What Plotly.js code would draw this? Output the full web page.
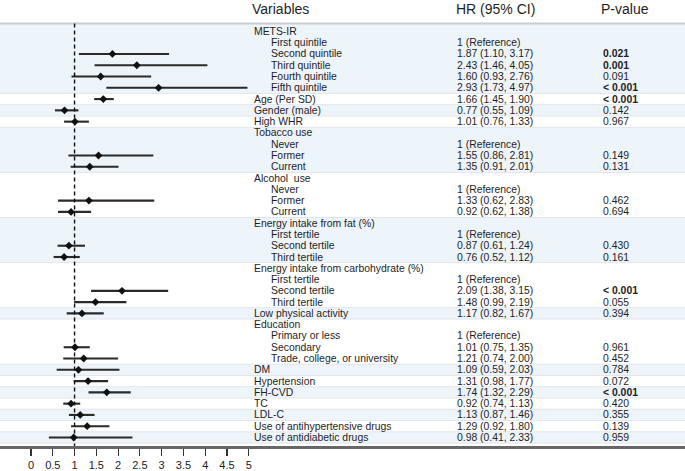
<!DOCTYPE html>
<html>
<head>
<meta charset="utf-8">
<script src="https://cdn.plot.ly/plotly-3.0.1.min.js"></script>
<style>html,body{margin:0;padding:0;background:#fff;}#chart{width:685px;height:471px;}</style>
</head>
<body>
<div id="chart"></div>
<script>
// ---- data ----
const labels = ['METS-IR','First quintile','Second quintile','Third quintile','Fourth quintile','Fifth quintile',
  'Age (Per SD)','Gender (male)','High WHR',
  'Tobacco use','Never','Former','Current',
  'Alcohol\u00a0 use','Never','Former','Current',
  'Energy intake from fat (%)','First tertile','Second tertile','Third tertile',
  'Energy intake from carbohydrate (%)','First tertile','Second tertile','Third tertile',
  'Low physical activity',
  'Education','Primary or less','Secondary','Trade, college, or university',
  'DM','Hypertension','FH-CVD','TC','LDL-C','Use of antihypertensive drugs','Use of antidiabetic drugs'];
const indent = [0,1,1,1,1,1, 0,0,0, 0,1,1,1, 0,1,1,1, 0,1,1,1, 0,1,1,1, 0, 0,1,1,1, 0,0,0,0,0,0,0];
const hr = [null,null,1.87,2.43,1.60,2.93, 1.66,0.77,1.01, null,null,1.55,1.35, null,null,1.33,0.92,
  null,null,0.87,0.76, null,null,2.09,1.48, 1.17, null,null,1.01,1.21, 1.09,1.31,1.74,0.92,1.13,1.29,0.98];
const lo = [null,null,1.10,1.46,0.93,1.73, 1.45,0.55,0.76, null,null,0.86,0.91, null,null,0.62,0.62,
  null,null,0.61,0.52, null,null,1.38,0.99, 0.82, null,null,0.75,0.74, 0.59,0.98,1.32,0.74,0.87,0.92,0.41];
const hi = [null,null,3.17,4.05,2.76,4.97, 1.90,1.09,1.33, null,null,2.81,2.01, null,null,2.83,1.38,
  null,null,1.24,1.12, null,null,3.15,2.19, 1.67, null,null,1.35,2.00, 2.03,1.77,2.29,1.13,1.46,1.80,2.33];
const pText = ['','','0.021','0.001','0.091','< 0.001','< 0.001','0.142','0.967','','','0.149','0.131',
  '','','0.462','0.694','','','0.430','0.161','','','< 0.001','0.055','0.394','','','0.961','0.452',
  '0.784','0.072','< 0.001','0.420','0.355','0.139','0.959'];
const headers = ['Variables','HR (95% CI)','P-value'];
const xTicks = [0,0.5,1,1.5,2,2.5,3,3.5,4,4.5,5];

// ---- layout constants ----
const rows = labels.map((_, i) => i + 1);
const colVar = 5.063, colIndent = 5.465, colHR = 9.747, colP = 13.077;
const hdrX = [5.04, 9.713, 13.043];
const txtFont = {family: '"Liberation Sans", Arial, sans-serif', size: 10.4, color: '#1e1e1e'};
const hdrFont = {family: '"Liberation Sans", Arial, sans-serif', size: 14, color: '#1e1e1e'};

// groups (a non-indented row starts a group)
const groups = [];
rows.forEach((r, i) => {
  if (!indent[i]) groups.push([r, r]); else groups[groups.length - 1][1] = r;
});

const shapes = [];
const topLine = 0.30, bottomY = 37.755;
groups.forEach((g, k) => {
  const y0 = k === 0 ? topLine : g[0] - 0.5;
  const y1 = g[1] + 0.5;
  if (k % 2 === 0) {
    shapes.push({type: 'rect', xref: 'paper', yref: 'y', x0: 0, x1: 1, y0: y0, y1: y1,
      fillcolor: '#edf4fa', line: {width: 0}, layer: 'below'});
  }
  if (k > 0) {
    shapes.push({type: 'line', xref: 'paper', yref: 'y', x0: 0, x1: 1, y0: g[0] - 0.5, y1: g[0] - 0.5,
      line: {color: '#e2e6ea', width: 1}, layer: 'below'});
  }
});
shapes.push({type: 'line', xref: 'paper', yref: 'y', x0: 0, x1: 1, y0: groups[groups.length-1][1] + 0.5,
  y1: groups[groups.length-1][1] + 0.5, line: {color: '#e2e6ea', width: 1}, layer: 'below'});
shapes.push({type: 'line', xref: 'paper', yref: 'y', x0: 0, x1: 1, y0: topLine, y1: topLine,
  line: {color: '#c9cdd0', width: 2.2}});
shapes.push({type: 'line', xref: 'x', yref: 'y', x0: 1, x1: 1, y0: topLine, y1: bottomY,
  line: {color: '#111', width: 1.4, dash: '4px,3px'}});

// annotations (text columns)
const annotations = [];
headers.forEach((h, j) => annotations.push({x: hdrX[j], y: -0.95, xref: 'x', yref: 'y', text: h,
  showarrow: false, xanchor: 'left', yanchor: 'middle', font: hdrFont}));
rows.forEach((r, i) => {
  annotations.push({x: indent[i] ? colIndent : colVar, y: r, xref: 'x', yref: 'y', text: labels[i],
    showarrow: false, xanchor: 'left', yanchor: 'middle', font: txtFont});
  let hrT = '';
  if (hr[i] !== null) hrT = hr[i].toFixed(2) + ' (' + lo[i].toFixed(2) + ', ' + hi[i].toFixed(2) + ')';
  else if (indent[i] && (i === 0 || !indent[i-1])) hrT = '1 (Reference)';
  if (hrT) annotations.push({x: colHR, y: r, xref: 'x', yref: 'y', text: hrT,
    showarrow: false, xanchor: 'left', yanchor: 'middle', font: txtFont});
  if (pText[i]) {
    const p = pText[i];
    const bold = p.indexOf('<') >= 0 || parseFloat(p) < 0.05;
    annotations.push({x: colP, y: r, xref: 'x', yref: 'y', text: bold ? '<b>' + p + '</b>' : p,
      showarrow: false, xanchor: 'left', yanchor: 'middle', font: txtFont});
  }
});

const trace = {
  type: 'scatter', mode: 'markers',
  x: hr, y: rows,
  marker: {symbol: 'diamond', size: 6, color: '#111'},
  error_x: {type: 'data', symmetric: false,
    array: hr.map((v, i) => v === null ? 0 : hi[i] - v),
    arrayminus: hr.map((v, i) => v === null ? 0 : v - lo[i]),
    width: 0, thickness: 2.1, color: '#2a2a2a'},
  hoverinfo: 'skip', showlegend: false, cliponaxis: false
};

const layout = {
  width: 685, height: 471,
  margin: {l: 0, r: 0, t: 0, b: 25},
  paper_bgcolor: '#fff', plot_bgcolor: '#fff',
  xaxis: {range: [-0.7118, 15.017], tickvals: xTicks, ticktext: xTicks.map(String),
    ticks: 'outside', ticklen: 7, tickwidth: 1.2, tickcolor: '#333',
    showline: true, linecolor: '#666', linewidth: 2.5, showgrid: false, zeroline: false,
    tickfont: {family: '"Liberation Sans", Arial, sans-serif', size: 11, color: '#222'}, fixedrange: true},
  yaxis: {range: [bottomY, -1.784], visible: false, fixedrange: true},
  shapes: shapes, annotations: annotations, showlegend: false
};

Plotly.newPlot('chart', [trace], layout, {displayModeBar: false, staticPlot: true});
</script>
</body>
</html>
